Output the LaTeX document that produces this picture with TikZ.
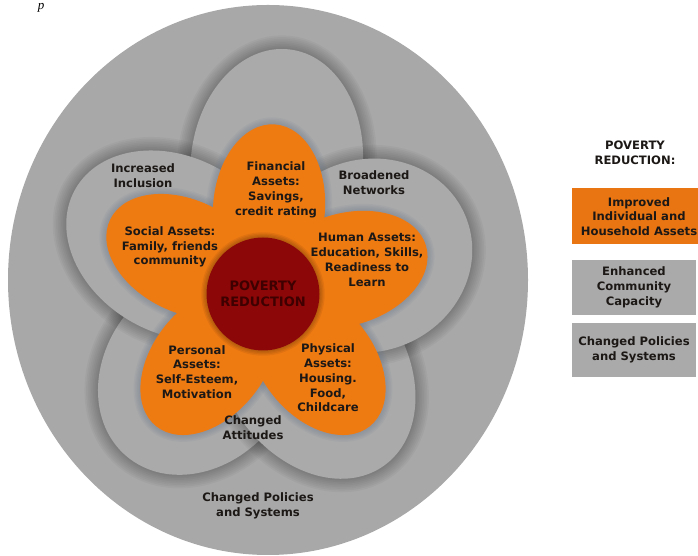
\documentclass[tikz,border=0pt]{standalone}
\usepackage{fontspec}
\setmainfont{DejaVu Sans}
\newfontfamily\capfont{Liberation Serif}
\definecolor{ringgray}{RGB}{168,168,168}
\definecolor{lobegray}{RGB}{170,170,170}
\definecolor{petalorange}{RGB}{238,122,18}
\definecolor{keyorange}{RGB}{232,116,18}
\definecolor{coredark}{RGB}{140,8,8}
\definecolor{coreink}{RGB}{62,0,0}
\definecolor{inktext}{RGB}{28,24,22}
\definecolor{haloblue}{RGB}{105,120,140}
\tikzset{
  lbl/.style={font=\fontsize{11.6}{14.8}\selectfont\bfseries, align=center, text=inktext, inner sep=0pt},
  keybox/.style={lbl, rectangle, minimum height=56pt, inner sep=0pt},
}

\begin{document}
\begin{tikzpicture}[x=1pt,y=1pt]
\useasboundingbox (0,0) rectangle (698,556);
\coordinate (c) at (263,262);
% outer ring
\fill[ringgray] (268,276) ellipse [x radius=260, y radius=275];
% gray lobes, each with a soft shadow
\foreach \ang/\dist/\ra/\rb in {84/131/115/86, -130/100/112/92, -55/90/120/90, 20/112/105/96, 151/100/115/88}
{
	\begin{scope}[shift={(c)}, rotate=\ang]
		\foreach \k in {1,...,8}
			\fill[black, opacity=0.032] (\dist,0) ellipse [x radius=\ra+\k*1.7, y radius=\rb+\k*1.7];
		\fill[lobegray] (\dist,0) ellipse [x radius=\ra, y radius=\rb];
	\end{scope}
}
% orange petals
\foreach \ang in {86,16.5,-51,-129,154}
{
	\begin{scope}[shift={(c)}, rotate=\ang]
		\foreach \k in {1,...,5}
			\fill[haloblue, opacity=0.09] (86,0) ellipse [x radius=84+\k*1.4, y radius=56+\k*1.4];
	\end{scope}
}
\foreach \ang in {86,16.5,-51,-129,154}
{
	\fill[petalorange, shift={(c)}, rotate=\ang] (86,0) ellipse [x radius=84, y radius=56];
}
\foreach \k in {1,...,4}
	\fill[black, opacity=0.06] (c) circle (56.5+\k*1.3);
\node[circle, fill=coredark, minimum size=113pt, inner sep=0pt, text=coreink,
  font=\fontsize{13}{16}\selectfont\bfseries, align=center] (core) at (c) {POVERTY\\REDUCTION};

% petal texts
\node[lbl] (financial) at (276,366) {Financial\\Assets:\\Savings,\\credit rating};
\node[lbl] (human) at (367,296) {Human Assets:\\Education, Skills,\\Readiness to\\Learn};
\node[lbl] (physical) at (328,178) {Physical\\Assets:\\Housing.\\Food,\\Childcare};
\node[lbl] (personal) at (197,184) {Personal\\Assets:\\Self-Esteem,\\Motivation};
\node[lbl] (social) at (170,309) {Social Assets:\\Family, friends\\community};
% lobe and ring texts
\node[lbl] (inclusion) at (143,380) {Increased\\Inclusion};
\node[lbl] (networks) at (374,373) {Broadened\\Networks};
\node[lbl] (attitudes) at (253,128) {Changed\\Attitudes};
\node[lbl] (policies) at (258,50) {Changed Policies\\and Systems};

% key
\node[lbl] (keytitle) at (635,403) {POVERTY\\REDUCTION:};
\node[keybox, fill=keyorange, minimum width=134pt] (keyassets) at (639,339.5) {Improved\\Individual and\\Household Assets};
\node[keybox, fill=lobegray, minimum width=124pt, minimum height=55pt] (keycommunity) at (634,268.5) {Enhanced\\Community\\Capacity};
\node[keybox, fill=lobegray, minimum width=124pt, minimum height=54pt] (keypolicies) at (634,206) {Changed Policies\\and Systems};

% caption fragment at the top edge
\node[font=\capfont\itshape\fontsize{13}{13}\selectfont, anchor=base, inner sep=0pt] (capfrag) at (41,546) {p};
\end{tikzpicture}
\end{document}
